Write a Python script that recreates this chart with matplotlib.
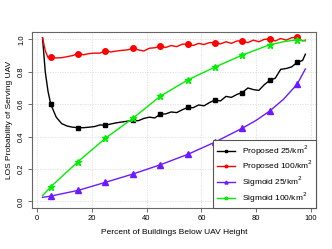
import numpy as np
import matplotlib
matplotlib.use("Agg")
import matplotlib.pyplot as plt

plt.rcParams["font.family"] = ["Liberation Sans", "DejaVu Sans"]

# x positions of the curves and the markers
x_line = [2, 3, 4] + list(range(5, 98, 2)) + [98]
x_mark = [5, 15, 25, 35, 45, 55, 65, 75, 85, 95]

prop25_line = [1.01, 0.80, 0.68, 0.60, 0.52, 0.48, 0.465, 0.458, 0.455, 0.455,
               0.458, 0.462, 0.472, 0.47, 0.478, 0.485, 0.49, 0.495, 0.50,
               0.498, 0.512, 0.52, 0.515, 0.538, 0.54, 0.552, 0.548, 0.565,
               0.58, 0.578, 0.595, 0.59, 0.61, 0.626, 0.62, 0.648, 0.642,
               0.66, 0.672, 0.70, 0.69, 0.685, 0.72, 0.747, 0.76, 0.815,
               0.82, 0.83, 0.858, 0.87, 0.908]
prop100_line = [1.01, 0.93, 0.888, 0.89, 0.885, 0.887, 0.893, 0.90, 0.912,
                0.905, 0.912, 0.915, 0.915, 0.93, 0.922, 0.928, 0.932, 0.935,
                0.945, 0.935, 0.928, 0.945, 0.948, 0.958, 0.95, 0.962, 0.955,
                0.97, 0.971, 0.962, 0.975, 0.968, 0.98, 0.979, 0.972, 0.985,
                0.975, 0.99, 0.99, 0.98, 0.995, 0.985, 1.0, 1.002, 0.99,
                1.005, 0.995, 1.01, 1.012, 0.99, 0.995]
prop25_mark = [0.60, 0.455, 0.47, 0.50, 0.538, 0.58, 0.626, 0.672, 0.747, 0.858]
prop100_mark = [0.89, 0.912, 0.93, 0.945, 0.958, 0.971, 0.979, 0.99, 1.002, 1.012]

x_sig = [2, 5, 15, 25, 35, 45, 55, 65, 75, 80, 85, 90, 95, 98]
sig25_line = [0.025, 0.033, 0.068, 0.118, 0.169, 0.226, 0.29, 0.366, 0.452,
              0.50, 0.558, 0.63, 0.723, 0.817]
sig100_line = [0.035, 0.09, 0.246, 0.39, 0.513, 0.649, 0.749, 0.829, 0.903,
               0.935, 0.967, 0.985, 0.998, 0.99]
sig25_mark = [0.033, 0.068, 0.118, 0.169, 0.226, 0.29, 0.366, 0.452, 0.558, 0.723]
sig100_mark = [0.09, 0.246, 0.39, 0.513, 0.649, 0.749, 0.829, 0.903, 0.967, 0.998]

labels = ["Proposed 25/km$^2$", "Proposed 100/km$^2$",
          "Sigmoid 25/km$^2$", "Sigmoid 100/km$^2$"]
purple = "#6a1bff"
green = "#00ee00"

fig = plt.figure(figsize=(3.32, 2.49), dpi=100)
ax = fig.add_axes([0.0964, 0.165, 0.855, 0.705])

ax.plot(x_line, prop25_line, color="black", lw=1.0)
ax.plot(x_mark, prop25_mark, "s", color="black", ms=3.5)
ax.plot(x_line, prop100_line, color="red", lw=1.0)
ax.plot(x_mark, prop100_mark, "o", color="red", ms=4)
ax.plot(x_sig, sig25_line, color=purple, lw=1.0)
ax.plot(x_mark, sig25_mark, "^", color=purple, ms=4.2)
ax.plot(x_sig, sig100_line, color=green, lw=1.0)
ax.plot(x_mark, sig100_mark, "*", color=green, ms=4.5)

# legend handles: line with a small marker
handles = [
    plt.Line2D([], [], color="black", lw=1.0, marker="s", ms=1.8),
    plt.Line2D([], [], color="red", lw=1.0, marker="o", ms=1.8),
    plt.Line2D([], [], color=purple, lw=1.0, marker="^", ms=2.2),
    plt.Line2D([], [], color=green, lw=1.0, marker="*", ms=2.5),
]
leg = ax.legend(handles, labels, loc="lower right", fontsize=6,
                borderaxespad=0, fancybox=False, framealpha=1,
                edgecolor="#555555", handlelength=2.2, labelspacing=0.15,
                handletextpad=0.8, borderpad=0.4)
leg.get_frame().set_linewidth(0.8)

ax.set_xlim(-1.84, 101.84)
ax.set_ylim(-0.04, 1.043)
ax.set_xticks(np.arange(0, 101, 20))
ax.set_yticks(np.arange(0, 1.01, 0.2))
ax.set_yticklabels(["0.0", "0.2", "0.4", "0.6", "0.8", "1.0"],
                   rotation=90, va="center")
ax.grid(True, color="#dddddd", linestyle=(0, (1.5, 1.5)), lw=0.6)
ax.set_axisbelow(True)
ax.tick_params(labelsize=5.5, length=3, width=0.6, color="#555555", pad=2)
for s in ax.spines.values():
    s.set_color("#666666")
    s.set_linewidth(0.8)

ax.set_xlabel("Percent of Buildings Below UAV Height", fontsize=6, labelpad=5)
ax.set_ylabel("LOS Probability of Serving UAV", fontsize=6, labelpad=4)

fig.savefig("out.png", dpi=100)
